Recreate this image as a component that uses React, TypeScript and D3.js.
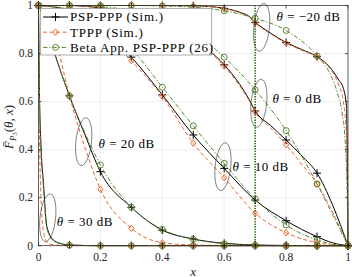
import React, { useEffect, useRef } from 'react';
import * as d3 from 'd3';

const width = 352;
const height = 277;

const xTicks = [0, 0.2, 0.4, 0.6, 0.8, 1];
const yTicks = [0, 0.2, 0.4, 0.6, 0.8, 1];
const xTickLabels = ['0', '0.2', '0.4', '0.6', '0.8', '1'];
const yTickLabels = ['0', '0.2', '0.4', '0.6', '0.8', '1'];

const seriesNames = ['PSP-PPP (Sim.)', 'TPPP (Sim.)', 'Beta App. PSP-PPP (26)'];
const thetaLabels = ['\u221220', '0', '10', '20', '30'];
const markerLine = 0.7;

// theta = -20 dB
const xM20Sim = [0, 0.1, 0.2, 0.3, 0.4, 0.5, 0.6, 0.65, 0.68, 0.7, 0.75, 0.8, 0.85, 0.9, 0.94, 0.97, 0.985, 0.995, 1];
const yM20Psp = [1, 1, 1, 1, 1, 0.999, 0.988, 0.972, 0.955, 0.93, 0.885, 0.846, 0.817, 0.787, 0.745, 0.69, 0.655, 0.58, 0];
const yM20Tppp = [1, 1, 1, 1, 1, 0.999, 0.987, 0.97, 0.952, 0.927, 0.882, 0.843, 0.814, 0.785, 0.74, 0.67, 0.6, 0.45, 0];
const xM20Beta = [0, 0.1, 0.2, 0.3, 0.4, 0.5, 0.6, 0.7, 0.8, 0.9, 0.94, 0.965, 0.98, 0.99, 0.997, 1];
const yM20Beta = [1, 1, 1, 1, 0.998, 0.993, 0.978, 0.947, 0.896, 0.79, 0.72, 0.64, 0.56, 0.45, 0.25, 0];

// theta = 0 dB
const x0Sim = [0, 0.1, 0.2, 0.3, 0.4, 0.5, 0.55, 0.6, 0.65, 0.68, 0.7, 0.75, 0.8, 0.85, 0.9, 0.95, 1];
const y0Psp = [1, 1, 0.99, 0.97, 0.93, 0.865, 0.815, 0.753, 0.672, 0.61, 0.561, 0.5, 0.44, 0.375, 0.302, 0.17, 0];
const y0Tppp = [1, 1, 0.99, 0.97, 0.93, 0.862, 0.81, 0.748, 0.665, 0.605, 0.556, 0.49, 0.42, 0.34, 0.257, 0.14, 0];
const x0Beta = [0, 0.1, 0.2, 0.3, 0.4, 0.5, 0.6, 0.7, 0.8, 0.9, 0.95, 1];
const y0Beta = [1, 1, 0.995, 0.98, 0.95, 0.89, 0.785, 0.649, 0.479, 0.257, 0.13, 0];

// theta = 10 dB
const x10 = [0, 0.1, 0.2, 0.3, 0.4, 0.5, 0.6, 0.7, 0.8, 0.9, 0.95, 1];
const y10Psp = [1, 0.98, 0.91, 0.785, 0.628, 0.461, 0.322, 0.19, 0.104, 0.0375, 0.012, 0];
const y10Tppp = [1, 0.98, 0.9, 0.77, 0.622, 0.427, 0.283, 0.135, 0.054, 0.0125, 0.003, 0];
const y10Beta = [1, 0.985, 0.93, 0.82, 0.66, 0.499, 0.343, 0.195, 0.086, 0.024, 0.006, 0];

// theta = 20 dB
const x20 = [0, 0.02, 0.05, 0.1, 0.15, 0.2, 0.3, 0.4, 0.5, 0.6, 0.7, 0.8, 0.9, 1];
const y20Psp = [1, 0.94, 0.81, 0.624, 0.462, 0.308, 0.16, 0.065, 0.028, 0.01, 0.003, 0.001, 0, 0];
const y20Tppp = [1, 0.97, 0.88, 0.624, 0.41, 0.235, 0.072, 0.0125, 0.003, 0.001, 0, 0, 0, 0];
const y20Beta = [1, 0.94, 0.81, 0.624, 0.47, 0.336, 0.16, 0.068, 0.027, 0.008, 0.002, 0, 0, 0];

// theta = 30 dB
const x30 = [0, 0.003, 0.008, 0.016, 0.027, 0.048, 0.07, 0.1, 0.2, 0.3, 0.4, 0.5, 0.6, 0.7, 0.8, 0.9, 1];
const y30Psp = [1, 0.65, 0.42, 0.26, 0.08, 0.024, 0.01, 0.003, 0, 0, 0, 0, 0, 0, 0, 0, 0];
const y30Beta = [1, 0.62, 0.4, 0.24, 0.07, 0.02, 0.008, 0.002, 0, 0, 0, 0, 0, 0, 0, 0, 0];
const x30Tppp = [0, 0.003, 0.008, 0.015, 0.025, 0.04, 0.1, 0.2, 0.3, 0.4, 0.5, 0.6, 0.7, 0.8, 0.9, 1];
const y30Tppp = [1, 0.5, 0.2, 0.07, 0.02, 0.005, 0, 0, 0, 0, 0, 0, 0, 0, 0, 0];

// label anchors (data units) and ellipse centres, same order as thetaLabels
const labelX = [0.769, 0.756, 0.627, 0.194, 0.059];
const labelY = [0.936, 0.595, 0.311, 0.407, 0.082];
const ellipseX = [0.721, 0.712, 0.596, 0.146, 0.03];
const ellipseY = [0.909, 0.593, 0.329, 0.433, 0.116];

type Pt = [number, number];

const zip = (xs: number[], ys: number[]): Pt[] => xs.map((x, i) => [x, ys[i]]);

const curves: Pt[][][] = [
  [zip(xM20Sim, yM20Psp), zip(xM20Sim, yM20Tppp), zip(xM20Beta, yM20Beta)],
  [zip(x0Sim, y0Psp), zip(x0Sim, y0Tppp), zip(x0Beta, y0Beta)],
  [zip(x10, y10Psp), zip(x10, y10Tppp), zip(x10, y10Beta)],
  [zip(x20, y20Psp), zip(x20, y20Tppp), zip(x20, y20Beta)],
  [zip(x30, y30Psp), zip(x30Tppp, y30Tppp), zip(x30, y30Beta)],
];

const styles = [
  { color: '#000000', dash: null, marker: 'plus' },
  { color: '#EE6530', dash: '4,2.5', marker: 'diamond' },
  { color: '#5B8A35', dash: '4.5,1.8,1.2,1.8', marker: 'circle' },
];

const onGrid = (x: number) => Math.abs(x * 10 - Math.round(x * 10)) < 1e-9;

const font = 'Liberation Serif, serif';
const axisColor = '#262626';

export default function App() {
  const svgRef = useRef<SVGSVGElement | null>(null);

  useEffect(() => {
    if (!svgRef.current) return;
    const svg = d3.select(svgRef.current);
    svg.selectAll('*').remove();

    const x = d3.scaleLinear().domain([0, 1]).range([38.5, 348]);
    const y = d3.scaleLinear().domain([0, 1]).range([245.7, 5.5]);
    const [x0, x1] = x.range();
    const [y0, y1] = y.range();

    // grid
    const grid = svg.append('g').attr('stroke', '#e4e4e4').attr('stroke-width', 0.6);
    xTicks.forEach((t) => grid.append('line').attr('x1', x(t)).attr('x2', x(t)).attr('y1', y0).attr('y2', y1));
    yTicks.forEach((t) => grid.append('line').attr('y1', y(t)).attr('y2', y(t)).attr('x1', x0).attr('x2', x1));

    // vertical dotted marker line
    svg
      .append('line')
      .attr('x1', x(markerLine))
      .attr('x2', x(markerLine))
      .attr('y1', y0)
      .attr('y2', y1)
      .attr('stroke', '#2F6E16')
      .attr('stroke-width', 1.6)
      .attr('stroke-dasharray', '1.4,1.2');

    const line = d3
      .line<Pt>()
      .x((d) => x(d[0]))
      .y((d) => y(d[1]))
      .curve(d3.curveMonotoneX);

    const drawMarker = (g: any, kind: string, cx: number, cy: number, color: string) => {
      if (kind === 'plus') {
        g.append('path')
          .attr('d', `M${cx - 4},${cy}H${cx + 4}M${cx},${cy - 4}V${cy + 4}`)
          .attr('stroke', color)
          .attr('stroke-width', 1)
          .attr('fill', 'none');
      } else if (kind === 'diamond') {
        g.append('path')
          .attr('d', `M${cx},${cy - 3.2}L${cx + 2.6},${cy}L${cx},${cy + 3.2}L${cx - 2.6},${cy}Z`)
          .attr('stroke', color)
          .attr('stroke-width', 1)
          .attr('fill', 'none');
      } else {
        g.append('circle')
          .attr('cx', cx)
          .attr('cy', cy)
          .attr('r', 3)
          .attr('stroke', color)
          .attr('stroke-width', 1)
          .attr('fill', 'none');
      }
    };

    const plot = svg.append('g');
    curves.forEach((group) => {
      group.forEach((pts, si) => {
        const st = styles[si];
        plot
          .append('path')
          .datum(pts)
          .attr('fill', 'none')
          .attr('stroke', st.color)
          .attr('stroke-width', 1)
          .attr('stroke-dasharray', st.dash)
          .attr('d', line);
        pts.filter((p) => onGrid(p[0])).forEach((p) => drawMarker(plot, st.marker, x(p[0]), y(p[1]), st.color));
      });
    });

    // ellipses and theta labels
    thetaLabels.forEach((lab, i) => {
      const cx = x(ellipseX[i]);
      const cy = y(ellipseY[i]);
      svg
        .append('ellipse')
        .attr('cx', cx)
        .attr('cy', cy)
        .attr('rx', 7.8)
        .attr('ry', 24)
        .attr('transform', `rotate(6 ${cx} ${cy})`)
        .attr('fill', 'none')
        .attr('stroke', '#333')
        .attr('stroke-width', 0.6);
      const t = svg
        .append('text')
        .attr('x', x(labelX[i]))
        .attr('y', y(labelY[i]))
        .attr('font-family', font)
        .attr('font-size', 13)
        .attr('letter-spacing', 0.5)
        .attr('fill', '#000');
      t.append('tspan').attr('font-style', 'italic').text('\u03b8');
      t.append('tspan').text(` = ${lab} dB`);
    });

    // axes box and ticks
    svg
      .append('rect')
      .attr('x', x0)
      .attr('y', y1)
      .attr('width', x1 - x0)
      .attr('height', y0 - y1)
      .attr('fill', 'none')
      .attr('stroke', axisColor)
      .attr('stroke-width', 0.7);
    const ticks = svg.append('g').attr('stroke', axisColor).attr('stroke-width', 0.7);
    xTicks.forEach((t) => {
      ticks.append('line').attr('x1', x(t)).attr('x2', x(t)).attr('y1', y0).attr('y2', y0 - 3);
      ticks.append('line').attr('x1', x(t)).attr('x2', x(t)).attr('y1', y1).attr('y2', y1 + 3);
    });
    yTicks.forEach((t) => {
      ticks.append('line').attr('y1', y(t)).attr('y2', y(t)).attr('x1', x0).attr('x2', x0 + 3);
      ticks.append('line').attr('y1', y(t)).attr('y2', y(t)).attr('x1', x1).attr('x2', x1 - 3);
    });

    svg
      .append('g')
      .selectAll('text')
      .data(xTicks)
      .enter()
      .append('text')
      .attr('x', (d) => x(d))
      .attr('y', 260.5)
      .attr('text-anchor', 'middle')
      .attr('font-family', font)
      .attr('font-size', 11.5)
      .attr('fill', axisColor)
      .text((d, i) => xTickLabels[i]);

    svg
      .append('g')
      .selectAll('text')
      .data(yTicks)
      .enter()
      .append('text')
      .attr('x', 33)
      .attr('y', (d) => y(d) + 3.8)
      .attr('text-anchor', 'end')
      .attr('font-family', font)
      .attr('font-size', 11.5)
      .attr('fill', axisColor)
      .text((d, i) => yTickLabels[i]);

    // axis labels
    svg
      .append('text')
      .attr('x', (x0 + x1) / 2)
      .attr('y', 275.5)
      .attr('text-anchor', 'middle')
      .attr('font-family', font)
      .attr('font-style', 'italic')
      .attr('font-size', 13)
      .attr('fill', axisColor)
      .text('x');

    const yl = svg
      .append('text')
      .attr('transform', 'translate(13,127) rotate(-90)')
      .attr('text-anchor', 'middle')
      .attr('font-family', font)
      .attr('font-size', 13)
      .attr('fill', axisColor);
    yl.append('tspan').attr('font-style', 'italic').text('F\u0304');
    yl.append('tspan').attr('font-style', 'italic').attr('font-size', 9).attr('dy', 2.5).text('P');
    yl.append('tspan').attr('font-size', 6.5).attr('dy', 1.5).text('3');
    yl.append('tspan').attr('dy', -4).text('(');
    yl.append('tspan').attr('font-style', 'italic').text('\u03b8');
    yl.append('tspan').text(', ');
    yl.append('tspan').attr('font-style', 'italic').text('x');
    yl.append('tspan').text(')');

    // legend
    const lg = svg.append('g');
    lg.append('rect')
      .attr('x', 40.7)
      .attr('y', 8.3)
      .attr('width', 171)
      .attr('height', 46.7)
      .attr('fill', '#fff')
      .attr('stroke', '#8a8a8a')
      .attr('stroke-width', 0.7);
    seriesNames.forEach((name, i) => {
      const st = styles[i];
      const cy = 17 + i * 15.2;
      lg.append('line')
        .attr('x1', 43)
        .attr('x2', 68)
        .attr('y1', cy)
        .attr('y2', cy)
        .attr('stroke', st.color)
        .attr('stroke-width', 1)
        .attr('stroke-dasharray', st.dash);
      drawMarker(lg, st.marker, 55.5, cy, st.color);
      lg.append('text')
        .attr('x', 70)
        .attr('y', cy + 4.3)
        .attr('font-family', font)
        .attr('font-size', 13)
        .attr('letter-spacing', 0.75)
        .attr('fill', '#000')
        .text(name);
    });
  }, []);

  return (
    <div style={{ position: 'absolute', left: 0, top: 0 }}>
      <svg ref={svgRef} width={width} height={height} style={{ display: 'block', background: '#fff' }} />
    </div>
  );
}
